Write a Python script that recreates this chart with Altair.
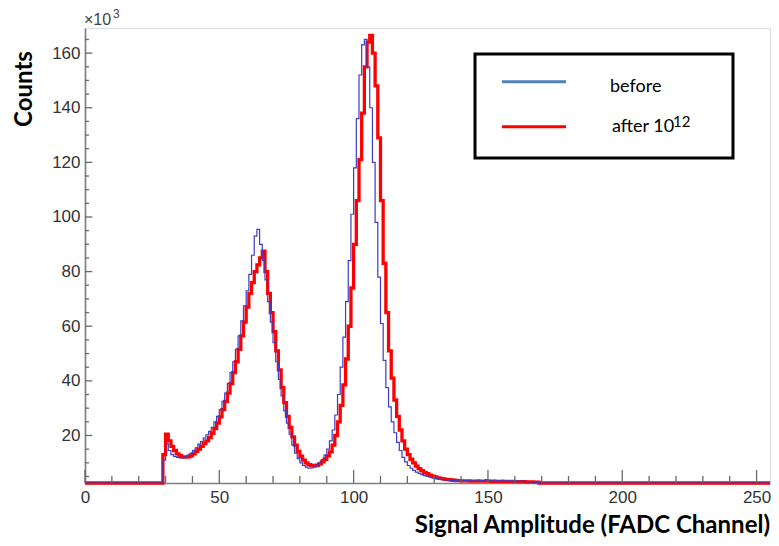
import altair as alt
import pandas as pd

# ---------------- data (counts in thousands, one value per FADC channel) ----------------
first_channel = 29
before_counts = [
    11, 17, 14.5, 13, 12.3, 12, 11.8, 11.8, 12.2, 12.8,            # 29-38
    13.5, 14.5, 15.5, 16.8, 17.8, 19, 20.2, 21.5, 23, 25,          # 39-48
    27, 29.5, 32.5, 35.5, 39, 43, 47, 51.5, 56.5, 62,              # 49-58
    67.5, 73, 79, 86, 93, 95.5, 90, 84, 77, 69,                    # 59-68
    61.5, 54, 47, 40.5, 34.5, 29, 24.5, 20.5, 16.5, 13.5,          # 69-78
    11.5, 10, 9, 8.4, 8, 8.1, 8.5, 9.2, 10, 11.2,                  # 79-88
    12.8, 15, 18, 22, 27.5, 35, 45, 56, 69, 84,                    # 89-98
    101, 118, 136, 152, 163, 165, 155, 140, 120, 98,               # 99-108
    78, 61, 47.5, 37.5, 30.5, 25, 21, 17.5, 14.5, 12,              # 109-118
    10.3, 9, 8, 7.2, 6.6, 6.1, 5.7, 5.3, 5, 4.7,                   # 119-128
    4.5, 4.3, 4.1, 3.9, 3.8, 3.7, 3.6, 3.5, 3.5, 3.4,              # 129-138
    3.4, 3.3, 3.5, 3.3, 3.6, 3.4, 3.3, 3.7, 3.5, 3.4,              # 139-148
    3.8, 3.6, 3.4, 3.7, 3.5, 3.3, 3.6, 3.4, 3.3, 3.5,              # 149-158
    3.2, 3.4, 3.3, 3.1, 3.3, 3.1, 3.0, 3.1, 2.9, 2.8,              # 159-168
]
after_counts = [
    13, 20.5, 18, 16, 14.5, 13.3, 12.6, 12.2, 12.1, 12.2,          # 29-38
    12.5, 13.3, 14.2, 15, 16, 17, 18, 19.2, 20.8, 22.5,            # 39-48
    24.5, 26.8, 29.5, 32.5, 35.5, 39, 43, 47, 51.5, 56.5,          # 49-58
    61.5, 67, 72, 76, 80, 82.5, 85, 87.5, 80, 72,                  # 59-68
    65, 58, 51, 44, 37.5, 32, 27, 23, 19.5, 16.5,                  # 69-78
    14.2, 12.4, 11, 10, 9.3, 9, 8.9, 9.1, 9.6, 10.3,               # 79-88
    11.3, 12.5, 14, 16.5, 20, 25, 31, 38.5, 48, 60,                # 89-98
    74, 90, 106, 121, 138, 155, 164, 166.5, 160, 148,              # 99-108
    129, 106, 83, 65, 51, 41, 33, 27, 22, 18,                      # 109-118
    15, 13, 11.3, 10, 8.8, 7.9, 7.1, 6.5, 6, 5.5,                  # 119-128
    5.1, 4.8, 4.5, 4.3, 4.1, 3.9, 3.8, 3.7, 3.6, 3.5,              # 129-138
    3.5, 3.4, 3.4, 3.4, 3.3, 3.3, 3.3, 3.3, 3.3, 3.3,              # 139-148
    3.3, 3.3, 3.2, 3.2, 3.2, 3.2, 3.2, 3.2, 3.2, 3.2,              # 149-158
    3.2, 3.1, 3.1, 3.1, 3.1, 3.0, 3.0, 3.0, 2.9, 2.9,              # 159-168
]
x_major = [0, 50, 100, 150, 200, 250]
x_minor = [10, 20, 30, 40, 60, 70, 80, 90, 110, 120, 130, 140,
           160, 170, 180, 190, 210, 220, 230, 240]
y_major = [20, 40, 60, 80, 100, 120, 140, 160]
y_minor = [5, 10, 15, 25, 30, 35, 45, 50, 55, 65, 70, 75, 85, 90, 95,
           105, 110, 115, 125, 130, 135, 145, 150, 155, 165]
x_title = "Signal Amplitude (FADC Channel)"
y_title = "Counts"
exp_base = "\u00d710"
exp_power = "3"
legend_labels = ["before", "after 10"]
legend_power = "12"
legend_colors = ["#4f81bd", "#ff0000"]

x_range = [0, 255]
y_range = [2.6, 169.2]

W, H = 685, 455
AXIS_GRAY = "#808080"
TICK_GRAY = "#6a6a6a"
LABEL = "#333333"


def hist_frame(counts):
    last = first_channel + len(counts)
    xs_ = [x_range[0]] + [first_channel + i for i in range(len(counts))] + [last, x_range[1]]
    ys_ = [0] + list(counts) + [0, 0]
    return pd.DataFrame({"x": xs_, "y": ys_})


xs = alt.Scale(domain=x_range, nice=False, zero=False)
ys = alt.Scale(domain=y_range, nice=False, zero=False, clamp=True)

x_axis = alt.Axis(values=x_major, ticks=False, tickSize=0, grid=False, title=None,
                  labelFont="Liberation Sans", labelFontSize=17, labelColor=LABEL,
                  labelPadding=6, labelFlush=False, labelOverlap=False,
                  domainColor=AXIS_GRAY, domainWidth=1.7)
y_axis = alt.Axis(values=y_major, ticks=False, tickSize=0, grid=False, title=None,
                  labelFont="Liberation Sans", labelFontSize=17, labelColor=LABEL,
                  labelPadding=5, labelFlush=False, labelOverlap=False,
                  domainColor=AXIS_GRAY, domainWidth=1.7)

X = alt.X("x:Q", scale=xs, axis=x_axis)
Y = alt.Y("y:Q", scale=ys, axis=y_axis)

red = alt.Chart(hist_frame(after_counts)).mark_line(
    interpolate="step-after", color="#ff0000", strokeWidth=3.3
).encode(x=X, y=Y)
blue = alt.Chart(hist_frame(before_counts)).mark_line(
    interpolate="step-after", color="#3c3cc8", strokeWidth=1.2
).encode(x=X, y=Y)


# inward ticks (ROOT style)
def xticks(vals, length):
    return alt.Chart(pd.DataFrame({"x": vals})).mark_rule(
        color=TICK_GRAY, strokeWidth=1.3
    ).encode(x=X, y=alt.value(H), y2=alt.value(H - length))


def yticks(vals, length):
    return alt.Chart(pd.DataFrame({"y": vals})).mark_rule(
        color=TICK_GRAY, strokeWidth=1.3
    ).encode(y=Y, x=alt.value(0), x2=alt.value(length))


def label(text, x, y, size, font="Lato", weight="bold", align="left",
          baseline="alphabetic", angle=0, color="black"):
    return alt.Chart(pd.DataFrame({"s": [text]})).mark_text(
        font=font, fontSize=size, fontWeight=weight, align=align,
        baseline=baseline, angle=angle, color=color
    ).encode(text="s:N", x=alt.value(x), y=alt.value(y))


def legend_line(color, y):
    return alt.Chart(pd.DataFrame({"c": [color]})).mark_rule(
        strokeWidth=3, color=color
    ).encode(x=alt.value(417), x2=alt.value(481), y=alt.value(y))


legend_box = alt.Chart(pd.DataFrame({"k": [0]})).mark_rect(
    fill="white", stroke="black", strokeWidth=3
).encode(x=alt.value(390), x2=alt.value(648), y=alt.value(26), y2=alt.value(130))

layers = [
    red, blue,
    xticks(x_major, 13), xticks(x_minor, 7),
    yticks(y_major, 7.3), yticks(y_minor, 4),
    legend_box,
    legend_line(legend_colors[0], 53.7),
    legend_line(legend_colors[1], 98.7),
    label(legend_labels[0], 525, 64.3, 18, weight="normal"),
    label(legend_labels[1], 527, 103.7, 18, weight="normal"),
    label(legend_power, 588, 99.3, 15, weight="normal"),
    label(exp_base, -1, -3, 16, font="Liberation Sans", weight="normal", color="#444444"),
    label(exp_power, 28, -10, 12, font="Liberation Sans", weight="normal", color="#444444"),
    label(x_title, 685, 505, 24, align="right"),
    label(y_title, -53, 61, 24, align="center", angle=270),
]

chart = alt.layer(*layers).properties(
    width=W, height=H,
    padding={"left": 77, "top": 20, "right": 1, "bottom": 55},
    autosize=alt.AutoSizeParams(type="none"),
).configure_view(stroke=AXIS_GRAY, strokeWidth=1.7).configure(background="white")

chart.save("out.html", embed_options={"renderer": "svg", "actions": False})
